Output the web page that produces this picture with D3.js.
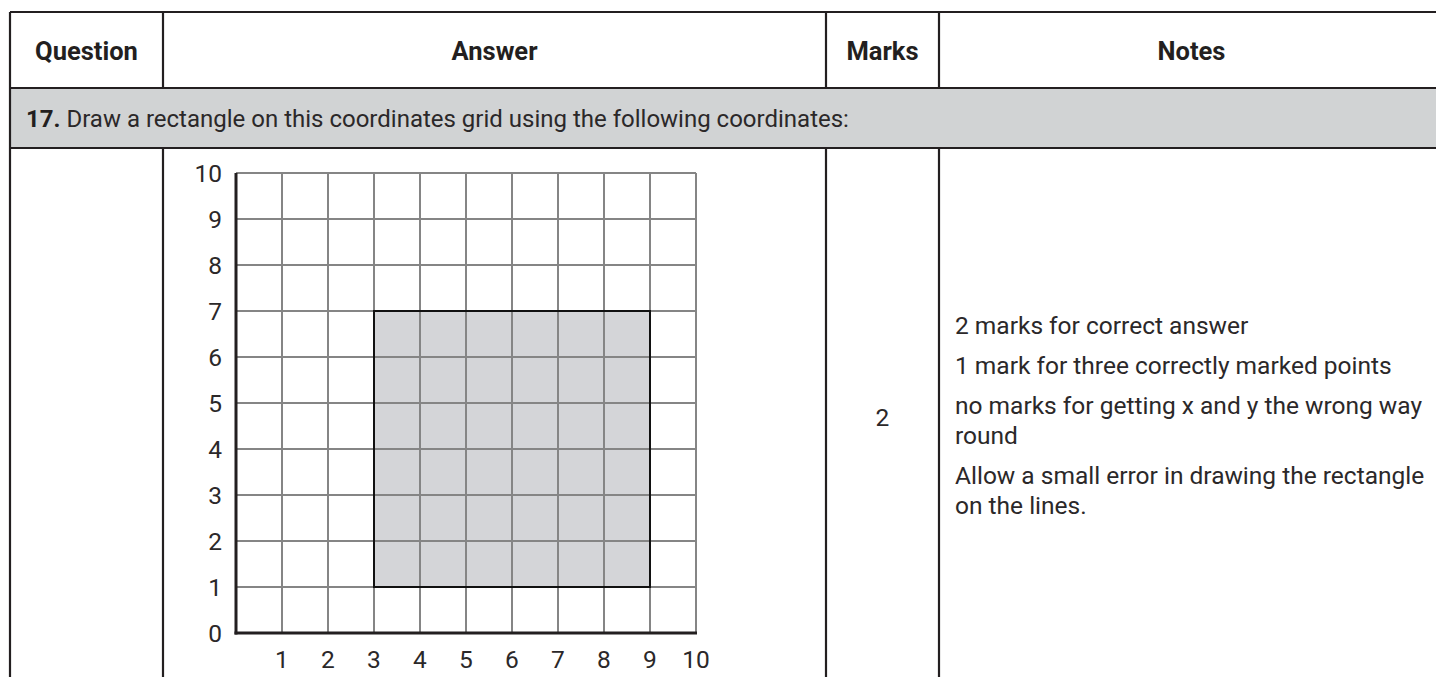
<!DOCTYPE html>
<html>
<head>
<meta charset="utf-8">
<script src="https://cdn.jsdelivr.net/npm/d3@7"></script>
<style>
  body { margin: 0; background: #fff; }
  text { font-family: Roboto, "Open Sans", sans-serif; fill: #231f20; }
  .light { font-weight: 400; fill: #2b2829; }
</style>
</head>
<body>
<div id="chart"></div>
<script>
// table contents
const headers = ["Question", "Answer", "Marks", "Notes"];
const questionNumber = "17.";
const questionText = " Draw a rectangle on this coordinates grid using the following coordinates:";
const marks = "2";
const notes = [
    ["2 marks for correct answer"],
    ["1 mark for three correctly marked points"],
    ["no marks for getting x and y the wrong way", "round"],
    ["Allow a small error in drawing the rectangle", "on the lines."]
];

// grid data
const xTicks = [1, 2, 3, 4, 5, 6, 7, 8, 9, 10];
const yTicks = [0, 1, 2, 3, 4, 5, 6, 7, 8, 9, 10];
const rectCorners = [[3, 1], [9, 7]];

const width = 1436, height = 677;
const ink = "#231f20";

const svg = d3.select("#chart").append("svg")
    .attr("width", width)
    .attr("height", height);

// table layout
const colX = [10, 163, 826, 939, 1444];
const rowY = [12, 88, 148, 720];

// grey question row
svg.append("rect")
    .attr("x", colX[0]).attr("y", rowY[1])
    .attr("width", colX[4] - colX[0]).attr("height", rowY[2] - rowY[1])
    .attr("fill", "#d1d3d4");

// horizontal rules
svg.selectAll("line.hrule")
    .data(rowY.slice(0, 3))
    .enter().append("line")
    .attr("class", "hrule")
    .attr("x1", colX[0]).attr("x2", colX[4])
    .attr("y1", d => d).attr("y2", d => d)
    .attr("stroke", ink).attr("stroke-width", 2.2);

// vertical rules (header row and body row, not through grey row)
[[rowY[0], rowY[1]], [rowY[2], rowY[3]]].forEach(([y1, y2]) => {
    svg.selectAll(null)
        .data(colX)
        .enter().append("line")
        .attr("x1", d => d).attr("x2", d => d)
        .attr("y1", y1).attr("y2", y2)
        .attr("stroke", ink).attr("stroke-width", 2.2);
});
svg.selectAll(null)
    .data([colX[0], colX[4]])
    .enter().append("line")
    .attr("x1", d => d).attr("x2", d => d)
    .attr("y1", rowY[1]).attr("y2", rowY[2])
    .attr("stroke", ink).attr("stroke-width", 2.2);

// header labels
svg.selectAll("text.header")
    .data(headers)
    .enter().append("text")
    .attr("class", "header")
    .attr("x", (d, i) => (colX[i] + colX[i + 1]) / 2)
    .attr("y", 60)
    .attr("text-anchor", "middle")
    .attr("font-size", 25.5)
    .attr("font-weight", "bold")
    .text(d => d);

// question row
const q = svg.append("text")
    .attr("x", 26).attr("y", 127)
    .attr("font-size", 24);
q.append("tspan").attr("font-weight", "bold").text(questionNumber);
q.append("tspan").attr("class", "light").text(questionText);

// coordinate grid
const x = d3.scaleLinear().domain([0, 10]).range([236, 696]);
const y = d3.scaleLinear().domain([0, 10]).range([633, 173]);

const grid = svg.append("g");

grid.append("rect")
    .attr("x", x(rectCorners[0][0]))
    .attr("y", y(rectCorners[1][1]))
    .attr("width", x(rectCorners[1][0]) - x(rectCorners[0][0]))
    .attr("height", y(rectCorners[0][1]) - y(rectCorners[1][1]))
    .attr("fill", "#d4d5d8");

grid.selectAll("line.vgrid")
    .data(xTicks)
    .enter().append("line")
    .attr("class", "vgrid")
    .attr("x1", d => x(d)).attr("x2", d => x(d))
    .attr("y1", y(0)).attr("y2", y(10))
    .attr("stroke", "#858585").attr("stroke-width", 2);

grid.selectAll("line.hgrid")
    .data(yTicks.filter(d => d > 0))
    .enter().append("line")
    .attr("class", "hgrid")
    .attr("x1", x(0)).attr("x2", x(10))
    .attr("y1", d => y(d)).attr("y2", d => y(d))
    .attr("stroke", "#858585").attr("stroke-width", 2);

grid.append("rect")
    .attr("x", x(rectCorners[0][0]))
    .attr("y", y(rectCorners[1][1]))
    .attr("width", x(rectCorners[1][0]) - x(rectCorners[0][0]))
    .attr("height", y(rectCorners[0][1]) - y(rectCorners[1][1]))
    .attr("fill", "none")
    .attr("stroke", "#111").attr("stroke-width", 2);

// axes
grid.append("line")
    .attr("x1", x(0)).attr("x2", x(0))
    .attr("y1", y(10)).attr("y2", y(0) + 1.5)
    .attr("stroke", ink).attr("stroke-width", 3);
grid.append("line")
    .attr("x1", x(0) - 1.5).attr("x2", x(10) + 1)
    .attr("y1", y(0)).attr("y2", y(0))
    .attr("stroke", ink).attr("stroke-width", 3);

grid.selectAll("text.ylab")
    .data(yTicks)
    .enter().append("text")
    .attr("class", "ylab light")
    .attr("x", x(0) - 14)
    .attr("y", d => y(d) + 8.5)
    .attr("text-anchor", "end")
    .attr("font-size", 24.5)
    .text(d => d);

grid.selectAll("text.xlab")
    .data(xTicks)
    .enter().append("text")
    .attr("class", "xlab light")
    .attr("x", d => x(d))
    .attr("y", 668)
    .attr("text-anchor", "middle")
    .attr("font-size", 24.5)
    .text(d => d);

// marks
svg.append("text")
    .attr("class", "light")
    .attr("x", (colX[2] + colX[3]) / 2)
    .attr("y", 426)
    .attr("text-anchor", "middle")
    .attr("font-size", 24.5)
    .text(marks);

// notes
let lineY = 334;
notes.forEach(par => {
    par.forEach((line, i) => {
        svg.append("text")
            .attr("class", "light")
            .attr("x", 955)
            .attr("y", lineY)
            .attr("font-size", 24.5)
            .text(line);
        lineY += i < par.length - 1 ? 30 : 40;
    });
});
</script>
</body>
</html>
